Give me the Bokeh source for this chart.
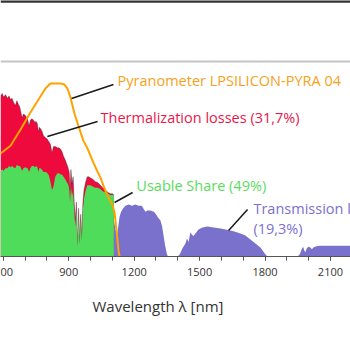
from bokeh.plotting import figure
from bokeh.models import Range1d, FixedTicker, BoxAnnotation, Span
from bokeh.core.properties import value
from bokeh.embed import file_html
from bokeh.resources import INLINE

# --- data ---
# solar spectrum (total, W/m^2/nm) up to the silicon band gap
wavelength = [587, 595, 601, 610, 619, 626, 633, 640, 646, 655, 662, 669, 675, 679, 686, 692, 700,
              711, 718, 724, 731, 738, 745, 750, 756, 761, 765, 770, 777, 784, 790, 796, 802, 809,
              816, 823, 830, 838, 848, 855, 862, 869, 876, 884, 890, 896, 902, 906, 910, 915, 920,
              925, 930, 935, 940, 945, 950, 955, 960, 965, 970, 978, 985, 992, 1000, 1010, 1022,
              1034, 1045, 1056, 1068, 1080, 1091, 1100, 1107]
spectrum = [1.33, 1.35, 1.32, 1.34, 1.31, 1.33, 1.30, 1.31, 1.28, 1.25, 1.29, 1.26, 1.24, 1.21, 1.15,
            1.18, 1.17, 1.14, 1.08, 1.13, 1.14, 1.13, 1.11, 1.12, 1.10, 1.03, 1.07, 1.06, 1.04, 1.00,
            0.99, 0.98, 0.97, 0.95, 0.93, 0.86, 0.91, 0.91, 0.90, 0.90, 0.89, 0.87, 0.83, 0.80, 0.77,
            0.74, 0.70, 0.55, 0.72, 0.60, 0.66, 0.45, 0.30, 0.45, 0.10, 0.40, 0.12, 0.35, 0.15, 0.45,
            0.55, 0.62, 0.66, 0.66, 0.65, 0.64, 0.62, 0.61, 0.59, 0.57, 0.55, 0.53, 0.52, 0.52, 0.51]
usable = [0.71, 0.72, 0.71, 0.73, 0.73, 0.75, 0.74, 0.75, 0.74, 0.73, 0.76, 0.75, 0.75, 0.74, 0.71,
          0.73, 0.74, 0.73, 0.70, 0.73, 0.75, 0.75, 0.74, 0.75, 0.74, 0.70, 0.73, 0.73, 0.72, 0.70,
          0.70, 0.70, 0.69, 0.67, 0.62, 0.55, 0.58, 0.66, 0.69, 0.69, 0.68, 0.68, 0.66, 0.64, 0.62,
          0.60, 0.57, 0.45, 0.58, 0.50, 0.54, 0.37, 0.25, 0.38, 0.08, 0.34, 0.10, 0.30, 0.13, 0.39,
          0.48, 0.55, 0.59, 0.59, 0.59, 0.58, 0.57, 0.57, 0.56, 0.54, 0.53, 0.52, 0.51, 0.51, 0.51]

# transmitted part beyond the band gap
wavelength_t = [1107, 1115, 1122, 1127, 1133, 1140, 1150, 1160, 1175, 1190, 1205, 1220, 1235, 1245,
                1252, 1260, 1275, 1290, 1300, 1310, 1320, 1328, 1335, 1342, 1350, 1355, 1400, 1410,
                1421, 1435, 1442, 1449, 1458, 1465, 1472, 1481, 1495, 1513, 1536, 1564, 1596, 1619,
                1641, 1660, 1687, 1710, 1733, 1756, 1779, 1793, 1806, 1815, 1950, 1960, 1968, 1975,
                1980, 1985, 1992, 2000, 2008, 2015, 2022, 2035, 2050, 2070, 2100, 2130, 2160, 2195]
transmission = [0.30, 0.22, 0.18, 0.25, 0.33, 0.37, 0.40, 0.42, 0.43, 0.42, 0.43, 0.42, 0.42, 0.39,
                0.37, 0.38, 0.38, 0.37, 0.35, 0.32, 0.30, 0.25, 0.17, 0.09, 0.02, 0.0, 0.0, 0.02,
                0.066, 0.108, 0.15, 0.12, 0.20, 0.18, 0.17, 0.19, 0.224, 0.24, 0.248, 0.24, 0.232,
                0.224, 0.215, 0.207, 0.19, 0.174, 0.141, 0.108, 0.075, 0.04, 0.008, 0.0, 0.0, 0.02,
                0.06, 0.08, 0.05, 0.035, 0.07, 0.08, 0.075, 0.06, 0.075, 0.085, 0.09, 0.09, 0.09,
                0.088, 0.09, 0.09]

# pyranometer relative spectral response
wavelength_r = [587, 633, 679, 724, 770, 793, 816, 839, 862, 880, 894, 908, 926, 944, 967, 986, 1013,
                1032, 1045, 1064, 1082, 1100, 1110, 1119, 1128, 1133]
response = [0.595, 0.64, 0.734, 0.832, 0.925, 0.971, 1.0, 1.0, 1.0, 0.994, 0.971, 0.919, 0.827, 0.757,
            0.67, 0.624, 0.543, 0.491, 0.457, 0.393, 0.341, 0.30, 0.254, 0.15, 0.035, 0.0]

major_ticks = [600, 900, 1200, 1500, 1800, 2100]
minor_ticks = [600, 700, 800, 900, 1000, 1100, 1200, 1300, 1400, 1500, 1600, 1700, 1800, 1900, 2000, 2100]
# the reference is cropped at the left edge, so only "00" of 600 is visible
tick_label_overrides = {600: "00"}
x_title = "Wavelength λ [nm]"

# annotations
ann_text = ["Pyranometer LPSILICON-PYRA 04", "Thermalization losses (31,7%)", "Usable Share (49%)",
            "Transmission losses", "(19,3%)"]
ann_x = [1124, 1046, 1210, 1747, 1747]
ann_y = [1.458, 1.151, 0.588, 0.398, 0.232]
ann_color = ["#F7A11A", "#E8174B", "#5BDB5E", "#7B70CF", "#7B70CF"]

lead_x0 = [913, 802, 1110, 1633]
lead_y0 = [1.309, 0.994, 0.447, 0.215]
lead_x1 = [1105, 1032, 1193, 1720]
lead_y1 = [1.424, 1.118, 0.530, 0.389]

RED = "#EE0A3C"
GREEN = "#4FDC5B"
PURPLE = "#7A71CC"
ORANGE = "#FFA200"

p = figure(width=350, height=350, output_backend="svg", toolbar_location=None,
           x_range=Range1d(587, 2192), y_range=Range1d(0, 2.12),
           min_border_left=0, min_border_right=0, min_border_top=0, min_border_bottom=94,
           y_axis_location=None)
p.extra_y_ranges = {"resp": Range1d(0, 1.48)}
p.xgrid.visible = False
p.ygrid.visible = False
p.outline_line_color = None
p.background_fill_color = "white"
p.border_fill_color = "white"

ax = p.xaxis[0]
ax.ticker = FixedTicker(ticks=major_ticks, minor_ticks=minor_ticks)
ax.major_label_overrides = tick_label_overrides
ax.major_tick_in = 0
ax.major_tick_out = 4
ax.minor_tick_in = 0
ax.minor_tick_out = 4
ax.axis_line_color = "#555555"
ax.major_tick_line_color = "#555555"
ax.minor_tick_line_color = "#555555"
ax.major_label_text_font = "Open Sans"
ax.major_label_text_font_size = "11px"
ax.major_label_text_color = "#333333"
ax.major_label_standoff = 7
# axis title: the reference sits left of centre, pad with non-breaking spaces on the right
ax.axis_label = x_title + "\u00a0" * 9
ax.axis_label_standoff = 17
ax.axis_label_text_font = "Open Sans"
ax.axis_label_text_font_size = "15px"
ax.axis_label_text_font_style = "normal"
ax.axis_label_text_color = "#333333"

# page decoration lines
p.add_layout(Span(location=2.113, dimension="width", line_color="#333333", line_width=3))
p.add_layout(BoxAnnotation(bottom=1.607, top=1.623, fill_color="#C4C4C4", fill_alpha=1, line_color=None))

p.varea(x=wavelength, y1=0, y2=spectrum, fill_color=RED)
p.line(x=wavelength, y=spectrum, line_color="#222222", line_width=0.7, line_alpha=0.5)
p.varea(x=wavelength, y1=0, y2=usable, fill_color=GREEN)
p.varea(x=wavelength_t, y1=0, y2=transmission, fill_color=PURPLE)
p.line(x=wavelength_r, y=response, y_range_name="resp", line_color=ORANGE, line_width=2)

p.segment(x0=lead_x0, y0=lead_y0, x1=lead_x1, y1=lead_y1, line_color="#1a1a1a", line_width=1.5)
p.text(x=ann_x, y=ann_y, text=ann_text, text_color=ann_color, text_font=value("Open Sans"),
       text_font_size="14.5px", text_baseline="middle", text_align="left")

open("out.html", "w").write(file_html(p, INLINE))
